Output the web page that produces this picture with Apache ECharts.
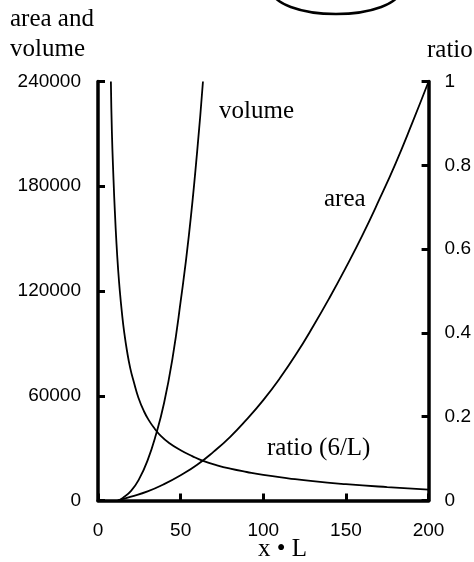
<!DOCTYPE html>
<html>
<head>
<meta charset="utf-8">
<script src="https://cdn.jsdelivr.net/npm/echarts@6/dist/echarts.min.js"></script>
<style>
  html, body { margin: 0; padding: 0; background: #fff; }
  #main { width: 474px; height: 562px; }
</style>
</head>
<body>
<div id="main"></div>
<script>
// values: [L, value]
const volumePts = [
  [12, 0], [15, 1500], [20, 5500], [25, 12500], [30, 23000], [35, 37500],
  [40, 56000], [45, 81000], [50, 114000], [55, 152000], [60, 200000], [63.5, 240000]
];
const areaPts = [
  [12, 0], [20, 2200], [30, 5200], [40, 9400], [50, 14500], [60, 20500],
  [70, 28000], [80, 36500], [90, 46500], [100, 57500], [110, 70000],
  [120, 84000], [130, 99500], [140, 116000], [150, 133500], [160, 152000],
  [170, 172000], [180, 193000], [190, 216000], [200, 240000]
];
const ratioPts = [
  [7.8, 1], [8.4, 0.88], [9.4, 0.765], [10.2, 0.69], [11.2, 0.612], [12.2, 0.55],
  [13.2, 0.5], [14.5, 0.447], [15.8, 0.403], [17.5, 0.358], [19.5, 0.316],
  [21.8, 0.281], [24.4, 0.246], [27.8, 0.213], [31, 0.19], [34, 0.173],
  [38, 0.154], [42.8, 0.138], [50, 0.12], [57, 0.106], [64, 0.094], [72, 0.084],
  [80, 0.076], [90, 0.068], [100, 0.061], [115, 0.053], [130, 0.046],
  [150, 0.039], [175, 0.032], [200, 0.026]
];

const xTicks = { min: 0, max: 200, step: 50 };
const leftTicks = { min: 0, max: 240000, step: 60000 };
const rightTicks = { min: 0, max: 1, step: 0.2 };

const serif = '"Liberation Serif", "Times New Roman", serif';
const sans = '"Liberation Sans", Arial, sans-serif';

const chart = echarts.init(document.getElementById('main'));

const axisStyle = {
  axisLine: { show: true, onZero: false, lineStyle: { color: '#000', width: 3.5 } },
  axisTick: { show: true, inside: true, length: 7, lineStyle: { color: '#000', width: 3 } },
  splitLine: { show: false },
  axisLabel: { color: '#000', fontFamily: sans, fontSize: 19, formatter: v => String(v) }
};

const lineSeries = (name, data, yIdx) => ({
  name, type: 'line', data, yAxisIndex: yIdx,
  smooth: 0.5, showSymbol: false, silent: true,
  lineStyle: { color: '#000', width: 1.8 }
});

chart.setOption({
  animation: false,
  backgroundColor: '#fff',
  grid: { left: 98, right: 42.5, top: 81.5, bottom: 61.5 },
  xAxis: {
    type: 'value', min: xTicks.min, max: xTicks.max, interval: xTicks.step,
    ...axisStyle,
    axisLabel: { ...axisStyle.axisLabel, margin: 21 }
  },
  yAxis: [
    {
      type: 'value', position: 'left',
      min: leftTicks.min, max: leftTicks.max, interval: leftTicks.step,
      ...axisStyle,
      axisLabel: { ...axisStyle.axisLabel, margin: 17 }
    },
    {
      type: 'value', position: 'right',
      min: rightTicks.min, max: rightTicks.max, interval: rightTicks.step,
      ...axisStyle,
      axisLabel: { ...axisStyle.axisLabel, margin: 16 }
    }
  ],
  series: [
    lineSeries('volume', volumePts, 0),
    lineSeries('area', areaPts, 0),
    lineSeries('ratio', ratioPts, 1)
  ],
  graphic: [
    { type: 'ellipse', shape: { cx: 336, cy: -10, rx: 64, ry: 24 },
      style: { fill: 'none', stroke: '#000', lineWidth: 2.5 } },
    { type: 'text', left: 10, top: 7, style: { text: 'area and', font: '25px ' + serif, fill: '#000' } },
    { type: 'text', left: 10, top: 37, style: { text: 'volume', font: '25px ' + serif, fill: '#000' } },
    { type: 'text', left: 427, top: 38, style: { text: 'ratio', font: '25px ' + serif, fill: '#000' } },
    { type: 'text', left: 219, top: 99, style: { text: 'volume', font: '25px ' + serif, fill: '#000' } },
    { type: 'text', left: 324, top: 187, style: { text: 'area', font: '25px ' + serif, fill: '#000' } },
    { type: 'text', left: 267, top: 436, style: { text: 'ratio (6/L)', font: '25px ' + serif, fill: '#000' } },
    { type: 'text', left: 258, top: 537, style: { text: 'x \u2022 L', font: '25px ' + serif, fill: '#000' } }
  ]
});
</script>
</body>
</html>
